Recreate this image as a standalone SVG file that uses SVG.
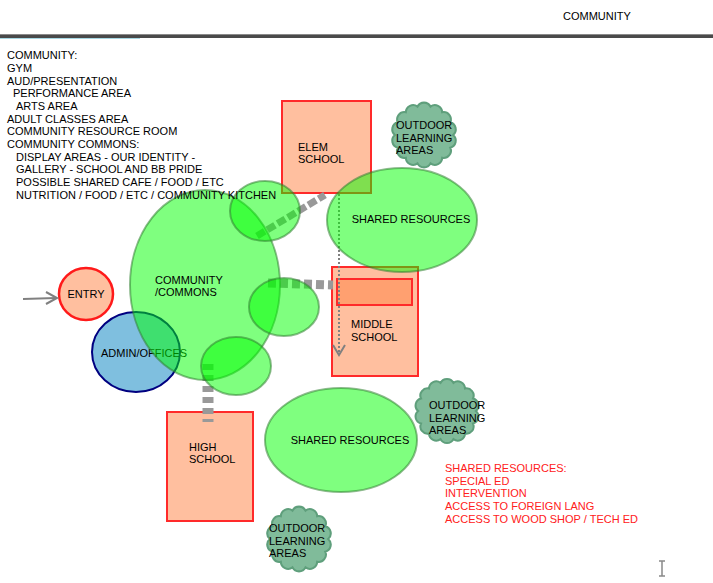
<svg xmlns="http://www.w3.org/2000/svg" xmlns:xlink="http://www.w3.org/1999/xlink" width="713" height="583" viewBox="0 0 713 583">
<style>
text { font-family: "Liberation Sans", Arial, sans-serif; font-size: 11px; fill: #000; }
.red { fill: #ff2020; }
.school { fill: #ffbf9f; stroke: #ff2a2a; stroke-width: 2; }
.green { fill: #00ff00; fill-opacity: 0.5; stroke: #2f7f2f; stroke-opacity: 0.55; stroke-width: 2; }
.cloud { fill: #80bb9a; stroke: #5f9f7c; stroke-width: 2; }
.thick { fill: none; stroke: #999; }
.grayline { fill: none; stroke: #808080; stroke-width: 2; }
</style>
<defs>
<path id="cloudshape" d="M28,0 A7,7 0 0,1 25.23,12.15 A7,7 0 0,1 17.46,21.89 A7,7 0 0,1 6.23,27.3 A7,7 0 0,1 -6.23,27.3 A7,7 0 0,1 -17.46,21.89 A7,7 0 0,1 -25.23,12.15 A7,7 0 0,1 -28,0 A7,7 0 0,1 -25.23,-12.15 A7,7 0 0,1 -17.46,-21.89 A7,7 0 0,1 -6.23,-27.3 A7,7 0 0,1 6.23,-27.3 A7,7 0 0,1 17.46,-21.89 A7,7 0 0,1 25.23,-12.15 A7,7 0 0,1 28,0 Z"/>
</defs>
<rect width="713" height="583" fill="#fff"/>

<g id="header">
<text x="563" y="20">COMMUNITY</text>
<rect x="0" y="34" width="713" height="4" fill="#4a4a4a"/>
<rect x="0" y="34" width="713" height="1" fill="#8a8a8a"/>
<rect x="0" y="38" width="140" height="1" fill="#a8d8e4"/>
</g>

<g id="elem-school">
<rect class="school" x="282" y="101" width="89" height="92"/>
<text x="298" y="151">ELEM</text>
<text x="298" y="163">SCHOOL</text>
</g>

<g id="middle-school">
<rect class="school" x="332" y="267" width="86" height="109"/>
<rect x="337" y="279" width="75" height="26" fill="#ffa070" stroke="#ff2a2a" stroke-width="2"/>
<text x="351" y="328">MIDDLE</text>
<text x="351" y="341">SCHOOL</text>
</g>

<g id="high-school">
<rect class="school" x="167" y="412" width="86" height="109"/>
<text x="189" y="451">HIGH</text>
<text x="189" y="463">SCHOOL</text>
</g>

<g id="entry">
<ellipse cx="86" cy="294" rx="27" ry="26" fill="#ffbf9f" stroke="#ff1a1a" stroke-width="2.5"/>
<text x="86" y="298" text-anchor="middle">ENTRY</text>
</g>

<g id="admin-offices">
<ellipse cx="136" cy="352" rx="44" ry="40" fill="#7fbfdf" stroke="#000080" stroke-width="2"/>
<text x="101" y="357">ADMIN/OFFICES</text>
</g>

<g id="connectors">
<line class="grayline" x1="23" y1="299" x2="56" y2="298"/>
<polyline class="grayline" points="46,292 57,298 46,304"/>
<line class="thick" x1="257" y1="236" x2="325" y2="195" stroke-width="7" stroke-dasharray="9 3"/>
<line class="thick" x1="268" y1="283" x2="333" y2="285" stroke-width="9" stroke-dasharray="8 4"/>
<line class="thick" x1="208" y1="364" x2="208" y2="422" stroke-width="11" stroke-dasharray="6 5"/>
<line x1="339" y1="194" x2="339" y2="353" stroke="#808080" stroke-width="2" stroke-dasharray="2 2"/>
<polyline class="grayline" points="333,345 339,355 345,345"/>
</g>

<g id="community-commons">
<ellipse class="green" cx="205" cy="285" rx="75" ry="95"/>
<text x="155" y="284">COMMUNITY</text>
<text x="155" y="296">/COMMONS</text>
</g>

<g id="commons-top">
<ellipse class="green" cx="265" cy="211" rx="35" ry="30"/>
</g>
<g id="commons-mid">
<ellipse class="green" cx="284" cy="307" rx="35" ry="29"/>
</g>
<g id="commons-bottom">
<ellipse class="green" cx="236" cy="366" rx="35" ry="29"/>
</g>

<g id="shared-resources-1">
<ellipse class="green" cx="402" cy="220" rx="75" ry="52"/>
<text x="411" y="223" text-anchor="middle">SHARED RESOURCES</text>
</g>

<g id="shared-resources-2">
<ellipse class="green" cx="341" cy="440" rx="76" ry="52"/>
<text x="350" y="444" text-anchor="middle">SHARED RESOURCES</text>
</g>

<g id="outdoor-1">
<use href="#cloudshape" xlink:href="#cloudshape" class="cloud" transform="translate(424,135) scale(1.04)"/>
<text x="396" y="129">OUTDOOR</text>
<text x="396" y="142">LEARNING</text>
<text x="396" y="154">AREAS</text>
</g>

<g id="outdoor-2">
<use href="#cloudshape" xlink:href="#cloudshape" class="cloud" transform="translate(447,411) scale(1.03)"/>
<text x="429" y="409">OUTDOOR</text>
<text x="429" y="422">LEARNING</text>
<text x="429" y="434">AREAS</text>
</g>

<g id="outdoor-3">
<use href="#cloudshape" xlink:href="#cloudshape" class="cloud" transform="translate(299,539) scale(1.04)"/>
<text x="269" y="532">OUTDOOR</text>
<text x="269" y="545">LEARNING</text>
<text x="269" y="557">AREAS</text>
</g>

<g id="community-list">
<text x="7" y="59">COMMUNITY:</text>
<text x="7" y="72">GYM</text>
<text x="7" y="85">AUD/PRESENTATION</text>
<text x="13" y="97">PERFORMANCE AREA</text>
<text x="16" y="110">ARTS AREA</text>
<text x="7" y="123">ADULT CLASSES AREA</text>
<text x="7" y="135">COMMUNITY RESOURCE ROOM</text>
<text x="7" y="148">COMMUNITY COMMONS:</text>
<text x="16" y="161">DISPLAY AREAS - OUR IDENTITY -</text>
<text x="16" y="173">GALLERY - SCHOOL AND BB PRIDE</text>
<text x="16" y="186">POSSIBLE SHARED CAFE / FOOD / ETC</text>
<text x="16" y="199">NUTRITION / FOOD / ETC / COMMUNITY KITCHEN</text>
</g>

<g id="shared-resources-note">
<text class="red" x="445" y="472">SHARED RESOURCES:</text>
<text class="red" x="445" y="485">SPECIAL ED</text>
<text class="red" x="445" y="497">INTERVENTION</text>
<text class="red" x="445" y="510">ACCESS TO FOREIGN LANG</text>
<text class="red" x="445" y="523">ACCESS TO WOOD SHOP / TECH ED</text>
</g>

<g id="cursor" stroke="#888" stroke-width="1.5" fill="none">
<line x1="662" y1="561" x2="662" y2="576"/>
<line x1="659" y1="561" x2="665" y2="561"/>
<line x1="659" y1="576" x2="665" y2="576"/>
</g>
</svg>
